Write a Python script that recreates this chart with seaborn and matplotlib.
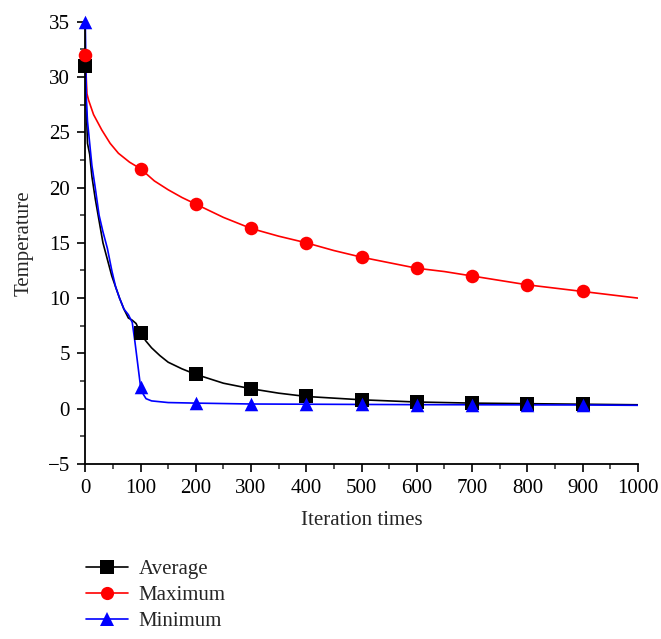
import seaborn as sns
import matplotlib.pyplot as plt
import pandas as pd
from matplotlib.lines import Line2D
from matplotlib.ticker import MultipleLocator

# values
avg_x = [0, 2, 4, 8, 12, 18, 25, 32, 40, 48, 55, 62, 70, 78, 85, 92, 100, 110, 120, 135, 150, 175,
         200, 250, 300, 350, 400, 450, 500, 600, 700, 800, 900, 1000]
avg_y = [31, 27, 24, 23, 21, 19, 17, 15, 13.5, 12, 11, 10, 9, 8.2, 8.0, 7.7, 6.8, 6.1, 5.5, 4.8, 4.2, 3.6,
         3.1, 2.3, 1.8, 1.4, 1.1, 0.95, 0.8, 0.6, 0.5, 0.45, 0.4, 0.35]

max_x = [0, 3, 6, 15, 30, 45, 60, 80, 100, 125, 150, 175, 200, 250, 300, 350, 400, 450, 500,
         550, 600, 650, 700, 750, 800, 850, 900, 950, 1000]
max_y = [32, 28.5, 27.9, 26.6, 25.2, 24.0, 23.1, 22.3, 21.7, 20.6, 19.8, 19.1, 18.5, 17.3, 16.3, 15.6, 15.0,
         14.3, 13.7, 13.2, 12.7, 12.4, 12.0, 11.6, 11.2, 10.9, 10.6, 10.3, 10.0]

min_x = [0, 2, 4, 8, 12, 18, 25, 32, 40, 48, 55, 62, 70, 78, 85, 90, 95, 100, 105, 110, 120, 150,
         200, 300, 400, 500, 600, 700, 800, 900, 1000]
min_y = [35, 28, 26, 24, 22, 20, 17.5, 16, 14.5, 12.5, 11, 10, 9, 8.5, 7.8, 6.0, 4.0, 2.0, 1.3, 0.9, 0.7, 0.55,
         0.5, 0.42, 0.4, 0.38, 0.36, 0.35, 0.34, 0.33, 0.3]

marker_x = [0, 100, 200, 300, 400, 500, 600, 700, 800, 900]

series = [
    ("Average", avg_x, avg_y, "black", "s"),
    ("Maximum", max_x, max_y, "red", "o"),
    ("Minimum", min_x, min_y, "blue", "^"),
]

sns.set_style("ticks")
plt.rcParams['font.family'] = ['Liberation Serif', 'DejaVu Serif']

fig = plt.figure(figsize=(6.61, 6.39), dpi=100)
ax = fig.add_axes([0.129, 0.274, 0.836, 0.692])

handles = []
for name, xs, ys, color, mk in series:
    df = pd.DataFrame({"x": xs, "y": ys})
    sns.lineplot(data=df, x="x", y="y", ax=ax, color=color, linewidth=1.2, legend=False)
    marks = df[df["x"].isin(marker_x)]
    sns.scatterplot(data=marks, x="x", y="y", ax=ax, color=color, marker=mk, s=95,
                    edgecolor=color, linewidth=0, legend=False, zorder=5, clip_on=False)
    handles.append(Line2D([], [], color=color, marker=mk, markersize=9.5, linewidth=1.2,
                          markeredgewidth=0, label=name))

ax.set_xlim(0, 1000)
ax.set_ylim(-5, 35)
ax.xaxis.set_major_locator(MultipleLocator(100))
ax.xaxis.set_minor_locator(MultipleLocator(50))
ax.yaxis.set_minor_locator(MultipleLocator(2.5))
ax.set_yticks(range(-5, 36, 5))
ax.set_yticklabels(["\u22125"] + [str(v) for v in range(0, 36, 5)])

ax.tick_params(which="major", direction="out", length=6, width=1.2, labelsize=15, colors="black", pad=5)
ax.tick_params(which="minor", direction="out", length=3.5, width=1.1)
sns.despine(ax=ax)
for sp in ["left", "bottom"]:
    ax.spines[sp].set_linewidth(1.3)
    ax.spines[sp].set_color("black")

ax.set_xlabel("Iteration times", fontsize=15, labelpad=9)
ax.set_ylabel("Temperature", fontsize=15, labelpad=10)

fig.legend(handles=handles, loc="upper left", bbox_to_anchor=(0.118, 0.137), frameon=False,
           fontsize=15, handlelength=2.0, labelspacing=0.3, handletextpad=0.5,
           borderaxespad=0)

fig.savefig("out.png", dpi=100)
